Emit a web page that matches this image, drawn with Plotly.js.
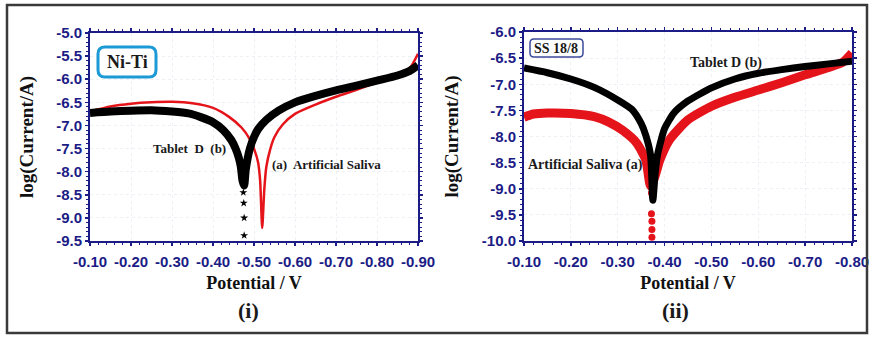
<!DOCTYPE html>
<html><head><meta charset="utf-8">
<script src="https://cdn.plot.ly/plotly-3.0.1.min.js"></script>
<style>html,body{margin:0;padding:0;background:#fff}#chart{width:871px;height:338px}</style>
</head><body><div id="chart"></div>
<script>
// ---- Panel (i): Ni-Ti ----
const niTiSalivaX = [-0.10,-0.15,-0.20,-0.25,-0.30,-0.35,-0.40,-0.44,-0.47,-0.49,-0.50,-0.51,-0.515,-0.52,-0.525,-0.53,-0.54,-0.55,-0.57,-0.60,-0.65,-0.70,-0.75,-0.80,-0.85,-0.88,-0.90];
const niTiSalivaY = [-6.70,-6.59,-6.53,-6.50,-6.49,-6.52,-6.62,-6.82,-7.05,-7.30,-7.50,-7.80,-8.20,-9.22,-8.40,-7.90,-7.50,-7.25,-6.98,-6.75,-6.55,-6.38,-6.23,-6.07,-5.90,-5.76,-5.45];
const niTiTabletX = [-0.10,-0.15,-0.20,-0.25,-0.30,-0.34,-0.37,-0.40,-0.425,-0.445,-0.455,-0.463,-0.468,-0.472,-0.476,-0.48,-0.49,-0.50,-0.51,-0.53,-0.56,-0.60,-0.65,-0.70,-0.75,-0.80,-0.85,-0.88,-0.90];
const niTiTabletY = [-6.73,-6.70,-6.68,-6.67,-6.70,-6.74,-6.82,-6.93,-7.10,-7.32,-7.50,-7.70,-7.90,-8.20,-8.30,-7.95,-7.50,-7.25,-7.08,-6.88,-6.68,-6.50,-6.36,-6.24,-6.14,-6.03,-5.92,-5.82,-5.70];
const niTiTabletTailX = [-0.474,-0.475,-0.476,-0.476];
const niTiTabletTailY = [-8.45,-8.68,-9.00,-9.38];

// ---- Panel (ii): SS 18/8 ----
const ssSalivaX = [-0.10,-0.12,-0.15,-0.20,-0.25,-0.28,-0.31,-0.34,-0.36,-0.37,-0.38,-0.39,-0.41,-0.45,-0.50,-0.55,-0.60,-0.65,-0.70,-0.75,-0.78,-0.80];
const ssSalivaY = [-7.63,-7.57,-7.55,-7.56,-7.62,-7.72,-7.88,-8.12,-8.45,-8.95,-8.75,-8.45,-8.07,-7.68,-7.42,-7.25,-7.11,-6.97,-6.82,-6.68,-6.58,-6.40];
const ssSalivaTailX = [-0.372,-0.372,-0.373,-0.373,-0.373];
const ssSalivaTailY = [-9.08,-9.48,-9.62,-9.78,-9.93];
const ssTabletX = [-0.10,-0.15,-0.20,-0.25,-0.30,-0.33,-0.35,-0.36,-0.37,-0.375,-0.38,-0.385,-0.40,-0.42,-0.45,-0.50,-0.55,-0.60,-0.65,-0.70,-0.75,-0.80];
const ssTabletY = [-6.69,-6.78,-6.90,-7.06,-7.30,-7.48,-7.75,-7.98,-8.35,-9.22,-8.70,-8.35,-7.85,-7.55,-7.32,-7.07,-6.90,-6.79,-6.72,-6.66,-6.61,-6.56];

// ---- Tick labels ----
const xTicks1 = [-0.10,-0.20,-0.30,-0.40,-0.50,-0.60,-0.70,-0.80,-0.90];
const xTickText1 = ["-0.10","-0.20","-0.30","-0.40","-0.50","-0.60","-0.70","-0.80","-0.90"];
const yTicks1 = [-5.0,-5.5,-6.0,-6.5,-7.0,-7.5,-8.0,-8.5,-9.0,-9.5];
const yTickText1 = ["-5.0","-5.5","-6.0","-6.5","-7.0","-7.5","-8.0","-8.5","-9.0","-9.5"];
const xTicks2 = [-0.10,-0.20,-0.30,-0.40,-0.50,-0.60,-0.70,-0.80];
const xTickText2 = ["-0.10","-0.20","-0.30","-0.40","-0.50","-0.60","-0.70","-0.80"];
const yTicks2 = [-6.0,-6.5,-7.0,-7.5,-8.0,-8.5,-9.0,-9.5,-10.0];
const yTickText2 = ["-6.0","-6.5","-7.0","-7.5","-8.0","-8.5","-9.0","-9.5","-10.0"];

const RED = '#e5141b', BLK = '#000000', NAVY = '#1c1c86';
const SERIF = '"Liberation Serif","Times New Roman",serif';
const xTickFont = {family:'"Liberation Sans Narrow","Arial Narrow","Liberation Sans",Arial,sans-serif', size:15, color:NAVY, weight:'bold'};
const yTickFont = {family:'"Liberation Sans",Arial,sans-serif', size:15, color:NAVY, weight:'bold'};
const bold = arr => arr.map(s => '<b>' + s + '</b>');

const traces = [
  {x:niTiSalivaX, y:niTiSalivaY, xaxis:'x', yaxis:'y', mode:'lines', line:{color:RED, width:2.5, shape:'spline', smoothing:0.6}, name:'(a) Artificial Saliva'},
  {x:niTiTabletX, y:niTiTabletY, xaxis:'x', yaxis:'y', mode:'lines', line:{color:BLK, width:8, shape:'spline', smoothing:0.6}, name:'Tablet D (b)'},
  {x:niTiTabletTailX, y:niTiTabletTailY, xaxis:'x', yaxis:'y', mode:'markers', marker:{symbol:'star', size:6, color:BLK}, name:'Tablet D (b)'},
  {x:ssSalivaX, y:ssSalivaY, xaxis:'x2', yaxis:'y2', mode:'lines', line:{color:RED, width:9, shape:'spline', smoothing:0.6}, name:'Artificial Saliva (a)'},
  {x:ssSalivaTailX, y:ssSalivaTailY, xaxis:'x2', yaxis:'y2', mode:'markers', marker:{symbol:'circle', size:7, color:RED}, name:'Artificial Saliva (a)'},
  {x:ssTabletX, y:ssTabletY, xaxis:'x2', yaxis:'y2', mode:'lines', line:{color:BLK, width:7, shape:'spline', smoothing:0.6}, name:'Tablet D (b)'}
];

function common(){
  return {showline:true, linecolor:NAVY, linewidth:2, mirror:'allticks', ticks:'outside', ticklen:3, tickwidth:1.5, tickcolor:NAVY,
    showgrid:true, gridcolor:'#eef0f5', griddash:'dot', gridwidth:1, zeroline:false, automargin:false};
}
function xax(domain, range, tv, tt, anchor){
  return Object.assign(common(), {domain:domain, range:range, anchor:anchor, tickvals:tv, ticktext:bold(tt), tickfont:xTickFont,
    ticklabelstandoff:3,
    minor:{dtick:0.02, ticks:'outside', ticklen:2, tickcolor:NAVY, tickwidth:1, showgrid:false},
    title:{text:'Potential / V', font:{family:SERIF, size:18, color:'#111', weight:'bold'}, standoff:7}});
}
function yax(domain, range, tv, tt, anchor, standoff){
  return Object.assign(common(), {domain:domain, range:range, anchor:anchor, tickvals:tv, ticktext:bold(tt), tickfont:yTickFont,
    minor:{dtick:0.1, ticks:'outside', ticklen:2, tickcolor:NAVY, tickwidth:1, showgrid:false},
    title:{text:'log(Current/A)', font:{family:SERIF, size:19, color:'#111', weight:'bold'}, standoff:standoff}});
}

const W = 871, H = 338;
const px = v => v / W, py = v => 1 - v / H;
function roundRect(x0, y0, x1, y1, r){
  const rx = r / W, ry = r / H;
  const X0 = px(x0), X1 = px(x1), Y0 = py(y0), Y1 = py(y1); // Y0 top, Y1 bottom
  return `M ${X0+rx},${Y0} L ${X1-rx},${Y0} Q ${X1},${Y0} ${X1},${Y0-ry} L ${X1},${Y1+ry} Q ${X1},${Y1} ${X1-rx},${Y1} L ${X0+rx},${Y1} Q ${X0},${Y1} ${X0},${Y1+ry} L ${X0},${Y0-ry} Q ${X0},${Y0} ${X0+rx},${Y0} Z`;
}
function ann(text, x, y, size, extra){
  return Object.assign({text:text, xref:'paper', yref:'paper', x:px(x), y:py(y), xanchor:'center', yanchor:'middle', showarrow:false,
    font:{family:SERIF, size:size, color:'#1a1a1a', weight:'bold'}}, extra || {});
}

const layout = {
  width:W, height:H, margin:{l:0, r:0, t:0, b:0}, showlegend:false,
  paper_bgcolor:'#fff', plot_bgcolor:'#fff',
  xaxis: xax([px(90), px(418)], [-0.10, -0.90], xTicks1, xTickText1, 'y'),
  yaxis: yax([py(241), py(33)], [-9.5, -5.0], yTicks1, yTickText1, 'x', 17),
  xaxis2: xax([px(524), px(852)], [-0.10, -0.80], xTicks2, xTickText2, 'y2'),
  yaxis2: yax([py(241), py(32)], [-10.0, -6.0], yTicks2, yTickText2, 'x2', 18),
  shapes:[
    {type:'rect', xref:'paper', yref:'paper', x0:px(7), x1:px(867), y0:py(333), y1:py(5), line:{color:'#3a3a3a', width:2.5}, fillcolor:'rgba(0,0,0,0)'},
    {type:'path', xref:'paper', yref:'paper', path:roundRect(98, 47, 156, 77, 7), line:{color:'#1b9ad6', width:3}, fillcolor:'#fff'},
    {type:'path', xref:'paper', yref:'paper', path:roundRect(530, 39, 583, 57, 4), line:{color:'#3b4a99', width:1.5}, fillcolor:'#fff'}
  ],
  annotations:[
    ann('Ni-Ti', 127, 62, 18),
    ann('Tablet  D  (b)', 189, 148, 13),
    ann('(a)  Artificial Saliva', 326, 164, 13),
    ann('SS 18/8', 556, 48, 14),
    ann('Tablet D (b)', 726, 63, 14),
    ann('Artificial Saliva (a)', 585, 165, 14),
    ann('(i)', 248, 310, 22),
    ann('(ii)', 675, 310, 22)
  ]
};

Plotly.newPlot('chart', traces, layout, {staticPlot:true, displayModeBar:false});
</script></body></html>
